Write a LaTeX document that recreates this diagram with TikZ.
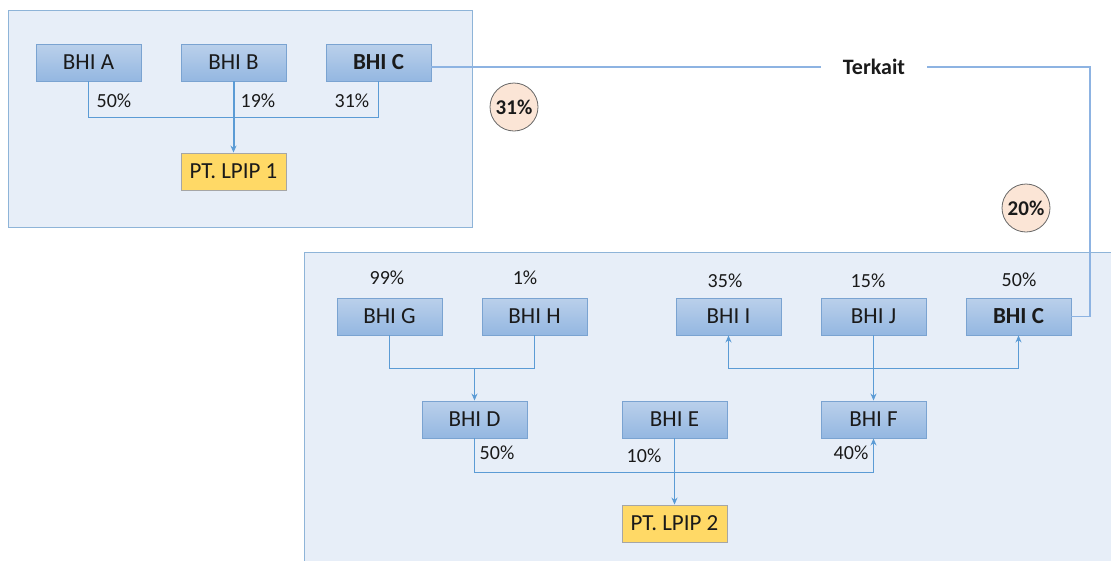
\documentclass[tikz,border=0pt]{standalone}
\usepackage{fontspec}
\setmainfont{Carlito}
\usetikzlibrary{arrows.meta}
\definecolor{panelfill}{HTML}{E7EEF8}
\definecolor{panelline}{HTML}{8EB4D8}
\definecolor{boxtop}{HTML}{BAD0EB}
\definecolor{boxbot}{HTML}{94B7E1}
\definecolor{boxline}{HTML}{7AA3D1}
\definecolor{linkc}{HTML}{5B9BD5}
\definecolor{thinlink}{HTML}{8DB3E2}
\definecolor{gold}{HTML}{FFD966}
\definecolor{goldline}{HTML}{A6A6A6}
\definecolor{peach}{HTML}{FBE5D6}
\definecolor{ink}{HTML}{1A1A1A}
\tikzset{
  panel/.style={fill=panelfill, draw=panelline, line width=0.9pt},
  entity/.style={rectangle, minimum width=105pt, minimum height=37pt, inner sep=0pt,
    top color=boxtop, bottom color=boxbot, draw=boxline, line width=0.9pt,
    text=ink, font=\fontsize{23}{27}\selectfont},
  target/.style={rectangle, minimum width=105pt, minimum height=37pt, inner sep=0pt,
    fill=gold, draw=goldline, line width=0.9pt, text=ink, font=\fontsize{23}{27}\selectfont},
  share/.style={text=ink, inner sep=0pt, font=\fontsize{20}{24}\selectfont},
  badge/.style={circle, minimum size=48pt, inner sep=0pt, fill=peach, draw=gray!80!black,
    line width=0.8pt, text=ink, font=\bfseries\fontsize{21}{25}\selectfont},
  link/.style={draw=linkc, line width=1.5pt},
  flow/.style={link, -{Stealth[length=7pt,width=6pt]}},
  flow2/.style={link, {Stealth[length=7pt,width=6pt]}-{Stealth[length=7pt,width=6pt]}},
  relation/.style={draw=thinlink, line width=1.1pt}
}
\begin{document}
\begin{tikzpicture}[x=1pt,y=-1pt]
\useasboundingbox (0,0) rectangle (1111,560);

% group panels
\draw[panel] (8,10) rectangle (472,227);
\draw[panel] (304,252) rectangle (1118,568);

% first group
\node[entity] (A)  at (88.5,62.5)  {BHI A};
\node[entity] (B)  at (233.5,62.5) {BHI B};
\node[entity] (C1) at (378.5,62.5) {\bfseries BHI C};
\node[target] (L1) at (233.5,171.5) {PT. LPIP 1};

\draw[link] (A.south) -- ++(0,36) -| (C1.south);
\draw[flow, line width=2pt] (B.south) -- (L1.north);
\node[share] (pa) at (114,101) {50\%};
\node[share] (pb) at (258,101) {19\%};
\node[share] (pc) at (352,101) {31\%};

\node[badge] (r31) at (514,107) {31\%};

% second group
\node[entity] (G)  at (389.5,316.5)  {BHI G};
\node[entity] (H)  at (534.5,316.5)  {BHI H};
\node[entity] (I)  at (728.5,316.5)  {BHI I};
\node[entity] (J)  at (873.5,316.5)  {BHI J};
\node[entity] (C2) at (1018.5,316.5) {\bfseries BHI C};
\node[entity] (D)  at (474.5,419.5)  {BHI D};
\node[entity] (E)  at (674.5,419.5)  {BHI E};
\node[entity] (F)  at (873.5,419.5)  {BHI F};
\node[target] (L2) at (674.5,523.5)  {PT. LPIP 2};

\node[share] (pg) at (387,278)  {99\%};
\node[share] (ph) at (525,278)  {1\%};
\node[share] (pi) at (725,281)  {35\%};
\node[share] (pj) at (868,281)  {15\%};
\node[share] (pk) at (1019,280) {50\%};

\coordinate (gh) at (474.5,368);
\draw[link] (G.south) -- ++(0,33) -| (H.south);
\draw[flow] (gh) -- (D.north);
\draw[flow2] (I.south) -- ++(0,33) -| (C2.south);
\draw[flow] (J.south) -- (F.north);
\draw[flow] (D.south) -- ++(0,34) -| (F.south);
\draw[flow] (E.south) -- (L2.north);

\node[share] (pd) at (497,453) {50\%};
\node[share] (pe) at (644,456) {10\%};
\node[share] (pf) at (851,453) {40\%};

% relation between the two BHI C entries
\node[text=ink, inner xsep=0pt, font=\bfseries\fontsize{22}{26}\selectfont] (tk) at (874,67) {Terkait};
\coordinate (corner) at (1090,67);
\draw[relation] (C1.east |- corner) -- ([xshift=-22pt]tk.west |- corner);
\draw[relation] ([xshift=22pt]tk.east |- corner) -- (corner) |- (C2.east);

\node[badge] (r20) at (1026,208) {20\%};
\end{tikzpicture}
\end{document}
